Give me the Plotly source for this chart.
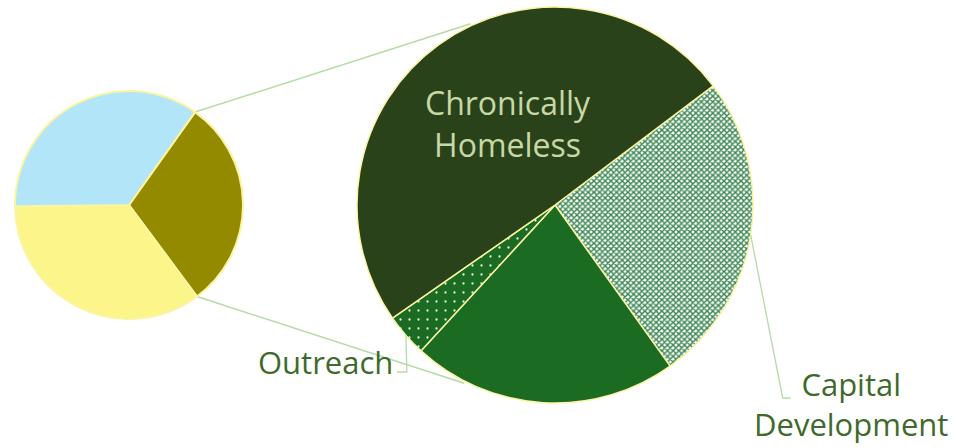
import math
import plotly.graph_objects as go

# ---- data -------------------------------------------------------------
main_labels = ["Other", "Housing", "Services"]
main_values = [30, 35, 35]
main_colors = ["#948a00", "#fbf58a", "#b2e5f8"]

sub_labels = ["Capital<br>Development", "Rapid Rehousing", "Outreach", "Chronically<br>Homeless"]
sub_values = [25.4, 21.7, 3.5, 49.4]
sub_colors = ["#ffffff", "#1b6b23", "#1b6b23", "#2a421a"]

# ---- geometry ---------------------------------------------------------
W, H = 957, 447
main_center, main_r = (129, 205), 114
sub_center, sub_r = (555, 205), 198
main_rotation = 35.4
sub_rotation = 53.0


def domain(center, r):
    cx, cy = center
    return dict(x=[(cx - r) / W, (cx + r) / W],
                y=[(H - cy - r) / H, (H - cy + r) / H])


def edge_point(center, r, compass_deg):
    """Point on a circle for a clockwise-from-north angle, in pixels."""
    a = math.radians(compass_deg)
    return center[0] + r * math.sin(a), center[1] - r * math.cos(a)


def px(x, y):
    return x / W, 1 - y / H


def slice_mid(values, rotation, idx):
    total = sum(values)
    start = rotation + 360 * sum(values[:idx]) / total
    return start + 180 * values[idx] / total


border = "#fbf4a2"
fig = go.Figure()

fig.add_trace(go.Pie(
    labels=main_labels, values=main_values, sort=False, direction="clockwise",
    rotation=main_rotation, textinfo="none", hoverinfo="label+percent",
    marker=dict(colors=main_colors, line=dict(color=border, width=2)),
    domain=domain(main_center, main_r), showlegend=False,
))

fig.add_trace(go.Pie(
    labels=sub_labels, values=sub_values, sort=False, direction="clockwise",
    rotation=sub_rotation, textinfo="none", hoverinfo="label+percent",
    marker=dict(
        colors=sub_colors, line=dict(color=border, width=1.5),
        pattern=dict(
            shape=["x", "", ".", ""],
            fgcolor=["#3a8650", "#1b6b23", "#e8f0e0", "#2a421a"],
            bgcolor=["#ffffff", "#1b6b23", "#1b6b23", "#2a421a"],
            size=[4, 8, 9, 8],
            solidity=[0.6, 0.3, 0.05, 0.3],
            fillmode="replace",
        ),
    ),
    domain=domain(sub_center, sub_r), showlegend=False,
))

# ---- connector lines from the "Other" slice to the secondary pie ---------
line_col = "#b5dba6"
other_start = main_rotation
other_end = main_rotation + 360 * main_values[0] / sum(main_values)
p1 = edge_point(main_center, main_r, other_start)
p2 = edge_point(main_center, main_r, other_end)
q1 = edge_point(sub_center, sub_r + 2, -25)
q2 = edge_point(sub_center, sub_r + 2, 207)
shapes = []
for a, b in ((p1, q1), (p2, q2)):
    x0, y0 = px(*a)
    x1, y1 = px(*b)
    shapes.append(dict(type="line", xref="paper", yref="paper",
                       x0=x0, y0=y0, x1=x1, y1=y1,
                       line=dict(color=line_col, width=1.5), layer="below"))

# ---- leader lines for outside labels -------------------------------------
cap_edge = edge_point(sub_center, sub_r, slice_mid(sub_values, sub_rotation, 0))
out_edge = edge_point(sub_center, sub_r, slice_mid(sub_values, sub_rotation, 2))
cap_path = [cap_edge, (cap_edge[0] + 32, 398), (cap_edge[0] + 40, 398)]
out_path = [out_edge, (out_edge[0] + 1, 372), (out_edge[0] - 9, 372)]
for path in (cap_path, out_path):
    pts = [px(*p) for p in path]
    d = "M " + " L ".join(f"{x},{y}" for x, y in pts)
    shapes.append(dict(type="path", xref="paper", yref="paper", path=d,
                       line=dict(color=line_col, width=1.3)))

label_font = "Open Sans"
label_col = "#3e6b2c"
annotations = [
    dict(text=sub_labels[3], x=px(508, 0)[0], y=px(0, 124)[1],
         font=dict(family=label_font, size=32, color="#c6d8a6")),
    dict(text=sub_labels[0], x=px(851, 0)[0], y=px(0, 404)[1],
         font=dict(family=label_font, size=31, color=label_col)),
    dict(text=sub_labels[2], x=px(325, 0)[0], y=px(0, 362)[1],
         font=dict(family=label_font, size=31, color=label_col)),
]
for a in annotations:
    a.update(xref="paper", yref="paper", showarrow=False,
             xanchor="center", yanchor="middle")

fig.update_layout(
    width=W, height=H, margin=dict(l=0, r=0, t=0, b=0),
    paper_bgcolor="#ffffff", plot_bgcolor="#ffffff",
    shapes=shapes, annotations=annotations,
)

fig.write_html("out.html")
